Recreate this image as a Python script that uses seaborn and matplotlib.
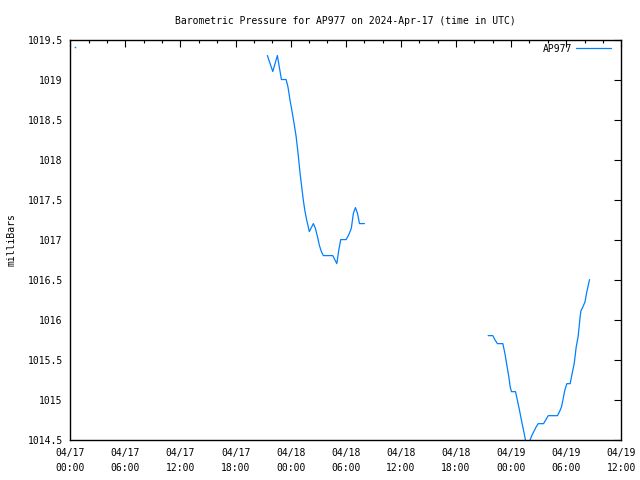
import matplotlib
matplotlib.use("Agg")
import matplotlib.pyplot as plt
import matplotlib.dates as mdates
from matplotlib.ticker import FuncFormatter, MultipleLocator
from matplotlib.lines import Line2D
import seaborn as sns
import pandas as pd

# ---- data (hours after 2024-04-17 00:00 UTC, pressure in mbar) ----
seg0_hours = [0.5]
seg0_press = [1019.41]

seg1_hours = [21.46, 22.05, 22.55, 22.99, 23.5, 23.7, 23.93, 24.15, 24.37, 24.59,
              24.8, 25.02, 25.24, 25.38, 25.53, 25.75, 26.03, 26.47, 26.69, 26.91,
              27.12, 27.34, 27.56, 28.58, 29.02, 29.24, 29.45, 30.03, 30.32, 30.6,
              30.83, 31.05, 31.27, 31.49, 32.03]
seg1_press = [1019.3, 1019.1, 1019.3, 1019.0, 1019.0, 1018.91, 1018.74, 1018.6, 1018.45, 1018.29,
              1018.08, 1017.83, 1017.62, 1017.49, 1017.37, 1017.24, 1017.1, 1017.2, 1017.14, 1017.04,
              1016.93, 1016.85, 1016.8, 1016.8, 1016.7, 1016.87, 1017.0, 1017.0, 1017.06, 1017.14,
              1017.33, 1017.4, 1017.33, 1017.2, 1017.2]

seg2_hours = [45.5, 46.01, 46.23, 46.51, 47.1, 47.32, 47.54, 47.76, 47.9, 48.04,
              48.48, 48.69, 48.91, 49.13, 49.35, 49.57, 49.8, 50.08, 50.29, 50.51,
              50.73, 50.95, 51.53, 51.74, 52.04, 53.05, 53.27, 53.49, 53.7, 53.85,
              54.07, 54.43, 54.65, 54.87, 55.09, 55.3, 55.52, 55.6, 55.82, 56.04,
              56.25, 56.54]
seg2_press = [1015.8, 1015.8, 1015.75, 1015.7, 1015.7, 1015.58, 1015.43, 1015.28, 1015.16, 1015.1,
              1015.1, 1014.99, 1014.87, 1014.74, 1014.62, 1014.49, 1014.4, 1014.5, 1014.56, 1014.61,
              1014.66, 1014.7, 1014.7, 1014.74, 1014.8, 1014.8, 1014.85, 1014.91, 1015.03, 1015.12,
              1015.2, 1015.2, 1015.33, 1015.45, 1015.66, 1015.79, 1016.04, 1016.11, 1016.16, 1016.22,
              1016.35, 1016.5]

station = "AP977"
title = "Barometric Pressure for AP977 on 2024-Apr-17 (time in UTC)"
ylabel = "milliBars"
start = pd.Timestamp("2024-04-17 00:00")
end = pd.Timestamp("2024-04-19 12:00")
ymin, ymax = 1014.5, 1019.5

rows = []
for sid, (hs, ps) in enumerate([(seg0_hours, seg0_press), (seg1_hours, seg1_press),
                                (seg2_hours, seg2_press)]):
    for h, p in zip(hs, ps):
        rows.append({"time": start + pd.Timedelta(hours=h), "pressure": p, "seg": sid})
df = pd.DataFrame(rows)

sns.set_style("white")
plt.rcParams["font.family"] = ["DejaVu Sans Mono", "DejaVu Sans"]
plt.rcParams["text.color"] = "black"
plt.rcParams["axes.labelcolor"] = "black"
plt.rcParams["xtick.color"] = "black"
plt.rcParams["ytick.color"] = "black"
color = "#0080ff"

fig = plt.figure(figsize=(6.4, 4.8), dpi=100)
ax = fig.add_axes([0.1098, 0.084, 0.8610, 0.8337])

sns.lineplot(data=df[df.seg > 0], x="time", y="pressure", units="seg", estimator=None,
             color=color, lw=0.9, ax=ax, legend=False)
sns.scatterplot(data=df[df.seg == 0], x="time", y="pressure", color=color, s=1.5,
                linewidth=0, ax=ax, legend=False)

ax.set_xlim(start, end)
ax.set_ylim(ymin, ymax)
ax.xaxis.set_major_locator(mdates.HourLocator(byhour=[0, 6, 12, 18]))
ax.xaxis.set_minor_locator(mdates.HourLocator(byhour=range(0, 24, 2)))
ax.xaxis.set_major_formatter(mdates.DateFormatter("%m/%d\n%H:%M"))
ax.yaxis.set_major_locator(MultipleLocator(0.5))
ax.yaxis.set_major_formatter(FuncFormatter(lambda v, p: "%g" % v))

ax.tick_params(which="both", direction="in", top=True, right=True, labelsize=7,
               color="black", labelcolor="black", width=0.8)
ax.tick_params(which="major", length=5)
ax.tick_params(which="minor", length=2.5)
ax.tick_params(axis="y", which="major", pad=5.5)
ax.tick_params(axis="x", which="major", pad=6)
for lab in ax.get_xticklabels():
    lab.set_linespacing(1.6)
for s in ax.spines.values():
    s.set_color("black")
    s.set_linewidth(1.0)

ax.set_xlabel("")
ax.set_ylabel(ylabel, fontsize=7, labelpad=8, color="black")
fig.text(0.539, 0.957, title, ha="center", va="center", fontsize=7, color="black")

handle = Line2D([], [], color=color, lw=0.9)
ax.legend([handle], [station], loc="upper right", bbox_to_anchor=(1.0, 1.016),
          frameon=False, fontsize=7, handlelength=3.6, markerfirst=False,
          borderaxespad=0.6, handletextpad=0.3, labelcolor="black", borderpad=0.5)
ax.grid(False)

fig.savefig("out.png", dpi=100)
